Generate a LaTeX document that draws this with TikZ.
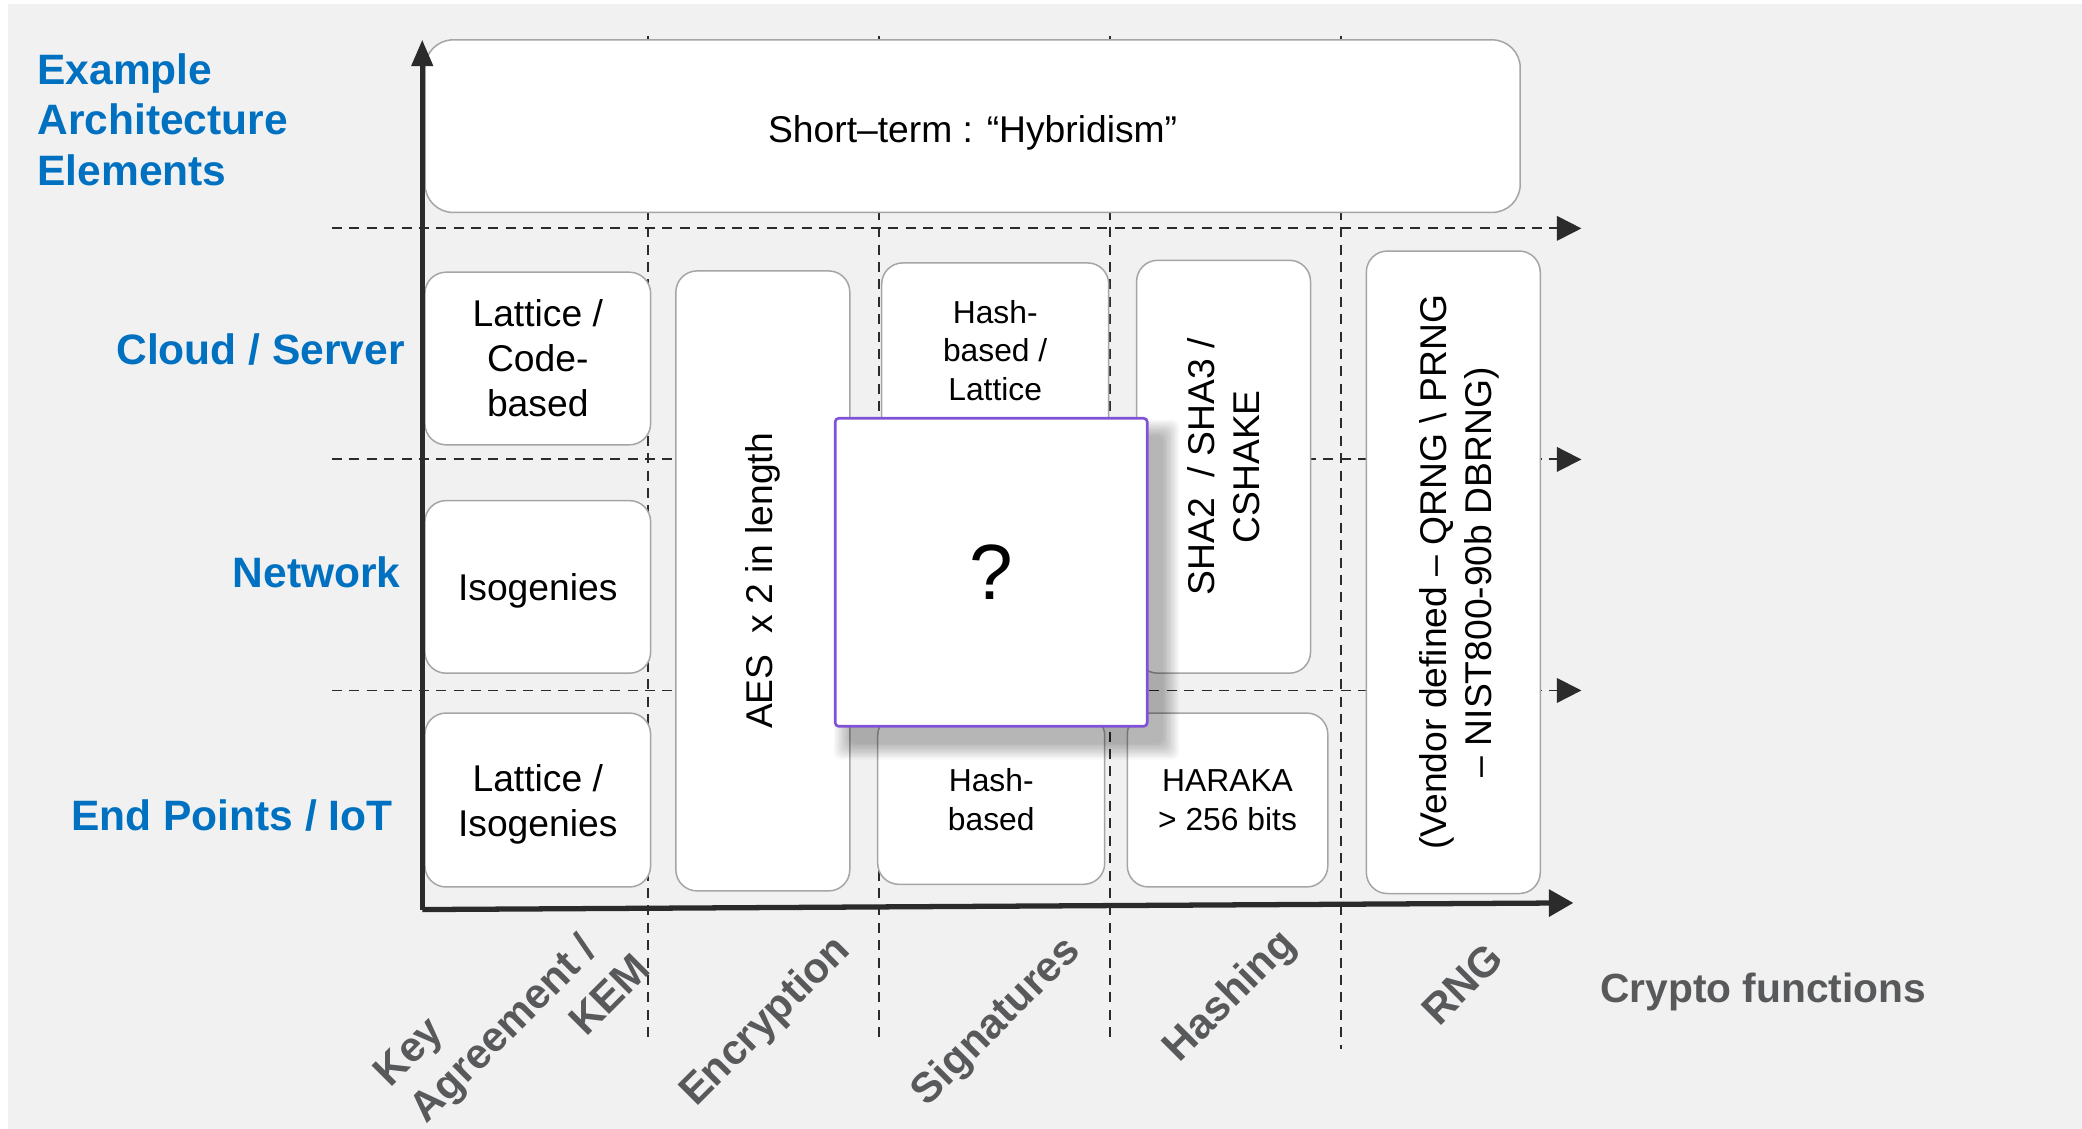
\documentclass[tikz,border=0pt]{standalone}
\usepackage{fontspec}
\setmainfont{Liberation Sans}
\usetikzlibrary{arrows.meta}
\definecolor{archBlue}{HTML}{0070C0}
\definecolor{funcGray}{HTML}{58595B}
\definecolor{cellLine}{HTML}{A5A5A5}
\definecolor{paneGray}{HTML}{F1F1F1}
\definecolor{axisDark}{HTML}{2B2B2B}
\definecolor{openPurple}{HTML}{8052D8}
\newcommand{\px}{0.7557pt}

\begin{document}
\begin{tikzpicture}[
  x=0.02656cm, y=-0.02656cm,
  cell/.style={draw=cellLine, fill=white, line width=0.85pt, rounded corners=12pt,
    align=center, inner sep=2pt, font=\fontsize{21.2}{25.7}\selectfont},
  smallcell/.style={cell, font=\fontsize{18.1}{22}\selectfont},
  rowlabel/.style={anchor=east, inner sep=0pt, text=archBlue,
    font=\fontsize{24.2}{28.7}\selectfont\bfseries},
  funclabel/.style={rotate=45, text=funcGray, font=\fontsize{24}{29.2}\selectfont\bfseries},
  gridline/.style={draw=axisDark, line width=1.1pt, dash pattern=on 5.7pt off 4.2pt},
  axisline/.style={draw=axisDark, line width=2.6pt},
]
  % Canvas
  \fill[white] (0,0) rectangle (1568,850);
  \fill[paneGray] (6,3) rectangle (1568,850);
  \useasboundingbox (0,0) rectangle (1568,850);

  % Grid lines
  \foreach \gx in {488,662,836} {
    \draw[gridline] (\gx,27) -- (\gx,781);
  }
  \draw[gridline] (1010,27) -- (1010,790);
  \foreach \gy in {172,346,520} {
    \draw[gridline, -{Triangle[length=14pt, width=14pt]}] (250,\gy) -- (1191,\gy);
  }

  % Boxes
  \node[cell, rounded corners=16pt, minimum width=825*\px, minimum height=130*\px]
    (hybrid) at (732.5,95) {\rule{0pt}{23pt}Short–term : “Hybridism”};

  \node[cell, minimum width=170*\px, minimum height=130*\px] (kaCloud) at (405,270) {Lattice /\\Code-\\based};
  \node[cell, minimum width=170*\px, minimum height=130*\px] (kaNet) at (405,442) {\rule{0pt}{20pt}Isogenies};
  \node[cell, minimum width=170*\px, minimum height=131*\px] (kaEnd) at (405,602.5) {\rule{0pt}{20pt}Lattice /\\Isogenies};

  \node[cell, rotate=90, minimum width=467*\px, minimum height=131*\px]
    (encAll) at (574.5,437.5) {AES\ \ x 2 in length};

  \node[smallcell, minimum width=171*\px, minimum height=132*\px] (sigCloud) at (749.5,264) {Hash-\\based /\\Lattice};
  \node[smallcell, minimum width=171*\px, minimum height=128*\px] (sigEnd) at (746.5,602) {Hash-\\based};

  \node[cell, rotate=90, minimum width=311*\px, minimum height=131*\px]
    (hashCloud) at (921.5,351.5) {SHA2\ \ / SHA3 /\\CSHAKE};
  \node[smallcell, minimum width=151*\px, minimum height=131*\px] (hashEnd) at (924.5,602.5) {HARAKA\\> 256 bits};

  \node[cell, rotate=90, minimum width=484*\px, minimum height=131*\px]
    (rngAll) at (1094.5,431) {\rule{0pt}{22pt}(Vendor defined – QRNG \textbackslash{} PRNG\\– NIST800-90b DBRNG)};

  % Open question
  \foreach \k in {0,...,12} {
    \fill[black, opacity=0.024, rounded corners=4pt] (640-\k,328-\k) rectangle (876+\k,560+\k);
  }
  \node[draw=openPurple, fill=white, line width=1.5pt, rounded corners=2pt,
        minimum width=235*\px, minimum height=232*\px, font=\fontsize{44.6}{50}\selectfont]
    (unknown) at (746.5,431) {?};

  % Axes
  \coordinate (origin) at (318,685);
  \coordinate (yEnd) at (318,30);
  \coordinate (xEnd) at (1185,680);
  \draw[axisline, -{Triangle[length=15pt, width=12pt]}] (origin) -- (yEnd);
  \draw[axisline, line width=3pt, -{Triangle[length=14pt, width=15pt]}] (origin) -- (xEnd);

  % Row labels
  \node[anchor=west, align=left, inner sep=0pt, text=archBlue,
        font=\fontsize{24.2}{28.7}\selectfont\bfseries]
    (title) at (28,90) {Example\\Architecture\\Elements};
  \node[rowlabel] (rowCloud) at (305,263) {Cloud / Server};
  \node[rowlabel] (rowNet) at (302,431) {Network};
  \node[rowlabel] (rowEnd) at (296,614) {End Points / IoT};

  % Function labels
  \node[funclabel, align=left, inner sep=1pt] (fnKey) at (385,768) {Key\\Agreement /\\\hspace*{99pt}KEM};
  \node[funclabel] (fnEnc) at (577,770) {Encryption};
  \node[funclabel] (fnSig) at (751,770) {Signatures};
  \node[funclabel] (fnHash) at (927,751) {Hashing};
  \node[funclabel] (fnRng) at (1101,741) {RNG};
  \node[text=funcGray, font=\fontsize{23.2}{27}\selectfont\bfseries] (fnAxis) at (1328,747) {Crypto functions};
\end{tikzpicture}
\end{document}
